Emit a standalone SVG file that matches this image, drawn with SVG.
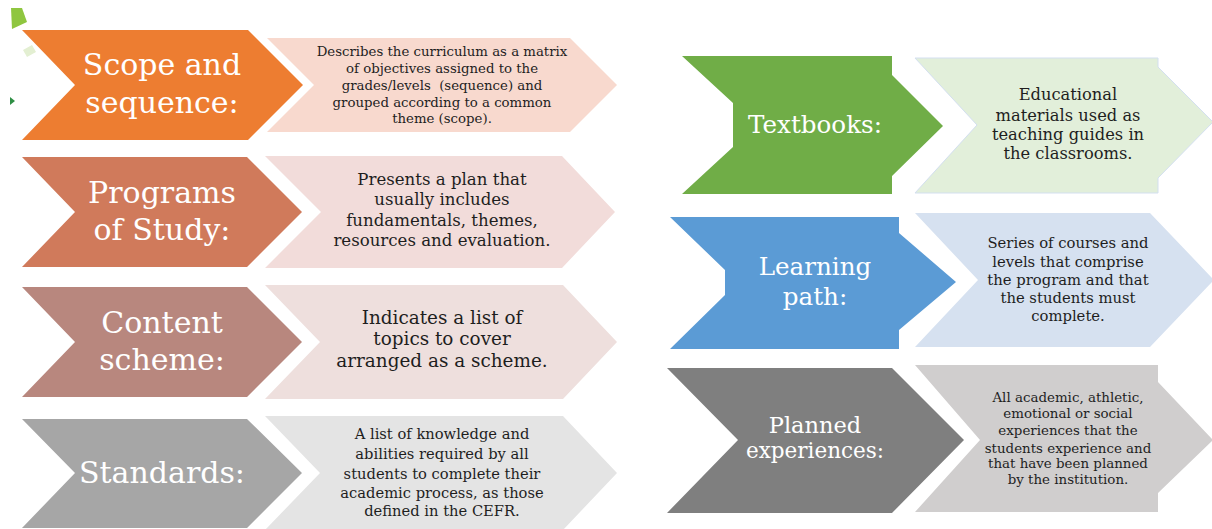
<svg xmlns="http://www.w3.org/2000/svg" width="1212" height="529" viewBox="0 0 1212 529">
  <style>
    .label { font-family: "DejaVu Serif", "Liberation Serif", serif; fill: #ffffff; text-anchor: middle; }
    .big { font-size: 30px; }
    .mid { font-size: 24.6px; }
    .desc { font-family: "DejaVu Serif", "Liberation Serif", serif; fill: #1e1e1e; text-anchor: middle; }
  </style>
  <rect x="0" y="0" width="1212" height="529" fill="#ffffff"/>

  <!-- corner ornaments -->
  <g id="ornaments">
    <polygon points="11,8 22,8 27,22 12,29" fill="#8fc640"/>
    <polygon points="23,50 32,45 36,52 27,57" fill="#e3efd2"/>
    <polygon points="10,97 15,101 10,105" fill="#2f8f45"/>
  </g>

  <!-- left column -->
  <g id="scope-sequence">
    <polygon points="267,38 570,38 617,85 570,132 267,132 314,85" fill="#f8d9ce"/>
    <polygon points="22,30 248,30 303,85 248,140 22,140 75,85" fill="#ed7d31"/>
    <text class="label big" x="162" y="75">Scope and</text>
    <text class="label big" x="162" y="113">sequence:</text>
    <text class="desc" font-size="13.3" x="442" y="56" xml:space="preserve">Describes the curriculum as a matrix</text>
    <text class="desc" font-size="13.3" x="442" y="73">of objectives assigned to the</text>
    <text class="desc" font-size="13.3" x="442" y="90" xml:space="preserve">grades/levels  (sequence) and</text>
    <text class="desc" font-size="13.3" x="442" y="107">grouped according to a common</text>
    <text class="desc" font-size="13.3" x="442" y="123">theme (scope).</text>
  </g>

  <g id="programs-of-study">
    <polygon points="265,156 562,156 615,212 562,268 265,268 321,212" fill="#f2dcda"/>
    <polygon points="22,157 247,157 302,212 247,267 22,267 75,212" fill="#d07a5b"/>
    <text class="label big" x="162" y="203">Programs</text>
    <text class="label big" x="162" y="240">of Study:</text>
    <text class="desc" font-size="16.6" x="442" y="185">Presents a plan that</text>
    <text class="desc" font-size="16.6" x="442" y="205">usually includes</text>
    <text class="desc" font-size="16.6" x="442" y="226">fundamentals, themes,</text>
    <text class="desc" font-size="16.6" x="442" y="246">resources and evaluation.</text>
  </g>

  <g id="content-scheme">
    <polygon points="265,285 563,285 617,342 563,399 265,399 320,342" fill="#eedfdd"/>
    <polygon points="22,287 247,287 302,342 247,397 22,397 75,342" fill="#b8877e"/>
    <text class="label big" x="162" y="333">Content</text>
    <text class="label big" x="162" y="370">scheme:</text>
    <text class="desc" font-size="18.4" x="442" y="324">Indicates a list of</text>
    <text class="desc" font-size="18.4" x="442" y="345">topics to cover</text>
    <text class="desc" font-size="18.4" x="442" y="367">arranged as a scheme.</text>
  </g>

  <g id="standards">
    <polygon points="265,416 563,416 617,473 563,530 265,530 320,473" fill="#e4e4e4"/>
    <polygon points="22,419 247,419 302,473 247,528 22,528 75,473" fill="#a6a6a6"/>
    <text class="label big" x="162" y="483">Standards:</text>
    <text class="desc" font-size="14.7" x="442" y="439">A list of knowledge and</text>
    <text class="desc" font-size="14.7" x="442" y="459">abilities required by all</text>
    <text class="desc" font-size="14.7" x="442" y="479">students to complete their</text>
    <text class="desc" font-size="14.7" x="442" y="498">academic process, as those</text>
    <text class="desc" font-size="14.7" x="442" y="516">defined in the CEFR.</text>
  </g>

  <!-- right column -->
  <g id="textbooks">
    <polygon points="915,58 1158,58 1158,67 1213,122 1158,178 1158,193 915,193 977,125" fill="#e2efda" stroke="#d3dff0" stroke-width="1"/>
    <polygon points="682,56 892,56 892,75 943,126 892,176 892,194 682,194 733,147 733,103" fill="#70ad47"/>
    <text class="label mid" x="815" y="133">Textbooks:</text>
    <text class="desc" font-size="16.3" x="1068" y="100">Educational</text>
    <text class="desc" font-size="16.3" x="1068" y="121">materials used as</text>
    <text class="desc" font-size="16.3" x="1068" y="140">teaching guides in</text>
    <text class="desc" font-size="16.3" x="1068" y="159">the classrooms.</text>
  </g>

  <g id="learning-path">
    <polygon points="915,213 1150,213 1214,280 1150,347 915,347 978,280" fill="#d6e1f0"/>
    <polygon points="670,217 899,217 899,233 956,282 899,330 899,349 670,349 725,295 725,270" fill="#5b9bd5"/>
    <text class="label mid" x="815" y="275">Learning</text>
    <text class="label mid" x="815" y="305">path:</text>
    <text class="desc" font-size="14.8" x="1068" y="248">Series of courses and</text>
    <text class="desc" font-size="14.8" x="1068" y="267">levels that comprise</text>
    <text class="desc" font-size="14.8" x="1068" y="285">the program and that</text>
    <text class="desc" font-size="14.8" x="1068" y="303">the students must</text>
    <text class="desc" font-size="14.8" x="1068" y="321">complete.</text>
  </g>

  <g id="planned-experiences">
    <polygon points="915,365 1158,365 1158,382 1213,440 1158,493 1158,512 915,512 980,440" fill="#d0cece"/>
    <polygon points="667,368 892,368 964,440 892,513 667,513 738,440" fill="#7f7f7f"/>
    <text class="label" font-size="22.5" x="815" y="433">Planned</text>
    <text class="label" font-size="21.5" x="815" y="458">experiences:</text>
    <text class="desc" font-size="13.4" x="1068" y="402">All academic, athletic,</text>
    <text class="desc" font-size="13.4" x="1068" y="418">emotional or social</text>
    <text class="desc" font-size="13.4" x="1068" y="435">experiences that the</text>
    <text class="desc" font-size="13.4" x="1068" y="453">students experience and</text>
    <text class="desc" font-size="13.4" x="1068" y="468">that have been planned</text>
    <text class="desc" font-size="13.4" x="1068" y="484">by the institution.</text>
  </g>

  <!-- no connectors: the chevron rows stand on their own -->
  <g id="connectors"/>
</svg>
